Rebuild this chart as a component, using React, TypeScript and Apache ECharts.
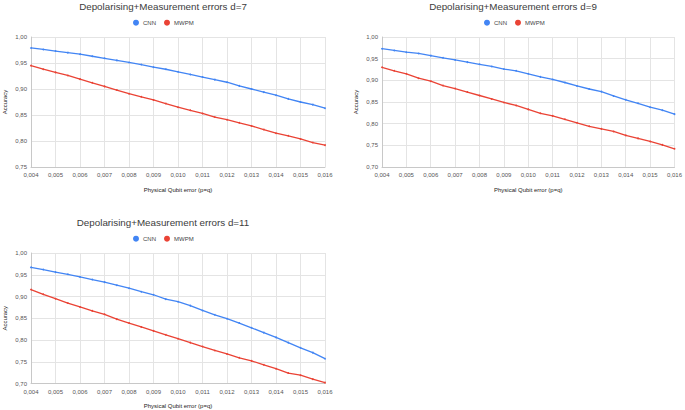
import React, { useEffect, useRef } from 'react';
import * as echarts from 'echarts';

const xValues = [0.004, 0.0045, 0.005, 0.0055, 0.006, 0.0065, 0.007, 0.0075, 0.008, 0.0085, 0.009, 0.0095, 0.01, 0.0105, 0.011, 0.0115, 0.012, 0.0125, 0.013, 0.0135, 0.014, 0.0145, 0.015, 0.0155, 0.016];

const cnnD7 = [0.979, 0.976, 0.973, 0.970, 0.967, 0.963, 0.959, 0.955, 0.951, 0.947, 0.942, 0.938, 0.933, 0.928, 0.923, 0.918, 0.913, 0.906, 0.900, 0.894, 0.888, 0.881, 0.875, 0.870, 0.863];
const mwpmD7 = [0.945, 0.938, 0.932, 0.926, 0.919, 0.912, 0.905, 0.898, 0.891, 0.885, 0.879, 0.872, 0.865, 0.859, 0.853, 0.846, 0.841, 0.835, 0.829, 0.822, 0.815, 0.810, 0.804, 0.797, 0.792];

const cnnD9 = [0.973, 0.969, 0.965, 0.962, 0.957, 0.952, 0.947, 0.942, 0.937, 0.932, 0.926, 0.922, 0.915, 0.908, 0.902, 0.895, 0.887, 0.880, 0.874, 0.864, 0.855, 0.847, 0.838, 0.831, 0.822];
const mwpmD9 = [0.930, 0.922, 0.915, 0.905, 0.898, 0.888, 0.881, 0.873, 0.865, 0.857, 0.849, 0.842, 0.833, 0.824, 0.818, 0.810, 0.802, 0.794, 0.788, 0.782, 0.773, 0.766, 0.759, 0.751, 0.742];

const cnnD11 = [0.967, 0.962, 0.956, 0.951, 0.945, 0.939, 0.933, 0.926, 0.919, 0.911, 0.904, 0.894, 0.888, 0.879, 0.868, 0.858, 0.849, 0.839, 0.828, 0.817, 0.806, 0.794, 0.782, 0.771, 0.757];
const mwpmD11 = [0.916, 0.905, 0.895, 0.885, 0.876, 0.867, 0.859, 0.848, 0.839, 0.830, 0.821, 0.812, 0.803, 0.794, 0.785, 0.776, 0.768, 0.759, 0.752, 0.743, 0.734, 0.724, 0.719, 0.710, 0.702];

const titles = ['Depolarising+Measurement errors d=7', 'Depolarising+Measurement errors d=9', 'Depolarising+Measurement errors d=11'];
const seriesNames = ['CNN', 'MWPM'];
const yMins = [0.75, 0.7, 0.7];
const xAxisName = 'Physical Qubit error (p=q)';
const yAxisName = 'Accuracy';

const BLUE = '#4285F4';
const RED = '#EA4335';

const panels = [
  { left: 31, top: 37, width: 294, height: 130, titleX: 163, titleY: 1, legendX: 133, legendY: 19.7, cnn: cnnD7, mwpm: mwpmD7 },
  { left: 382, top: 37, width: 295, height: 130, titleX: 513, titleY: 1, legendX: 484, legendY: 19.7, cnn: cnnD9, mwpm: mwpmD9 },
  { left: 31, top: 253, width: 294, height: 130.5, titleX: 163, titleY: 217, legendX: 133, legendY: 235.7, cnn: cnnD11, mwpm: mwpmD11 },
];

const fmt = (v: number, d: number) => v.toFixed(d).replace('.', ',');

export default function App() {
  const ref = useRef<HTMLDivElement>(null);
  useEffect(() => {
    if (!ref.current) return;
    const chart = echarts.init(ref.current, null, { renderer: 'svg' });
    const option: any = {
      animation: false,
      backgroundColor: '#ffffff',
      textStyle: { fontFamily: 'Liberation Sans, Arial, sans-serif' },
      title: panels.map((p, i) => ({
        text: titles[i],
        left: p.titleX,
        top: p.titleY,
        textAlign: 'center',
        padding: 0,
        textStyle: { fontSize: 9.8, fontWeight: 'normal', color: '#3c3c3c', fontFamily: 'Liberation Sans, Arial, sans-serif' },
      })),
      legend: panels.map((p) => ({
        data: seriesNames,
        left: p.legendX,
        top: p.legendY,
        padding: 0,
        icon: 'circle',
        itemWidth: 6,
        itemHeight: 6,
        itemGap: 8,
        selectedMode: false,
        textStyle: { fontSize: 6, color: '#444', padding: [0, 0, 0, -1] },
      })),
      grid: panels.map((p) => ({ left: p.left, top: p.top, width: p.width, height: p.height, containLabel: false })),
      xAxis: panels.map((p, i) => ({
        type: 'value',
        gridIndex: i,
        min: 0.004,
        max: 0.016,
        interval: 0.001,
        name: xAxisName,
        nameLocation: 'middle',
        nameGap: 19.5,
        nameTextStyle: { fontSize: 6, color: '#222' },
        axisLine: { show: true, lineStyle: { color: '#c8c8c8', width: 1 } },
        axisTick: { show: false },
        axisLabel: { fontSize: 6, color: '#555', margin: 5, formatter: (v: number) => fmt(v, 3), showMinLabel: true, showMaxLabel: true },
        splitLine: { show: true, lineStyle: { color: '#e4e4e4', width: 1 } },
      })),
      yAxis: panels.map((p, i) => ({
        type: 'value',
        gridIndex: i,
        min: yMins[i],
        max: 1.0,
        interval: 0.05,
        name: yAxisName,
        nameLocation: 'middle',
        nameGap: 23,
        nameRotate: 90,
        nameTextStyle: { fontSize: 6, color: '#222' },
        axisLine: { show: true, lineStyle: { color: '#c8c8c8', width: 1 } },
        axisTick: { show: false },
        axisLabel: { fontSize: 6, color: '#555', margin: 4, formatter: (v: number) => fmt(v, 2) },
        splitLine: { show: true, lineStyle: { color: '#e4e4e4', width: 1 } },
      })),
      series: panels.flatMap((p, i) => [
        {
          name: seriesNames[0],
          type: 'line',
          xAxisIndex: i,
          yAxisIndex: i,
          data: xValues.map((x, k) => [x, p.cnn[k]]),
          color: BLUE,
          lineStyle: { width: 1.3, color: BLUE },
          symbol: 'circle',
          symbolSize: 1.8,
          itemStyle: { color: BLUE },
          z: 3,
        },
        {
          name: seriesNames[1],
          type: 'line',
          xAxisIndex: i,
          yAxisIndex: i,
          data: xValues.map((x, k) => [x, p.mwpm[k]]),
          color: RED,
          lineStyle: { width: 1.3, color: RED },
          symbol: 'circle',
          symbolSize: 1.8,
          itemStyle: { color: RED },
          z: 2,
        },
      ]),
    };
    chart.setOption(option);
    return () => chart.dispose();
  }, []);
  return <div ref={ref} style={{ position: 'fixed', left: 0, top: 0, width: 685, height: 410 }} />;
}
